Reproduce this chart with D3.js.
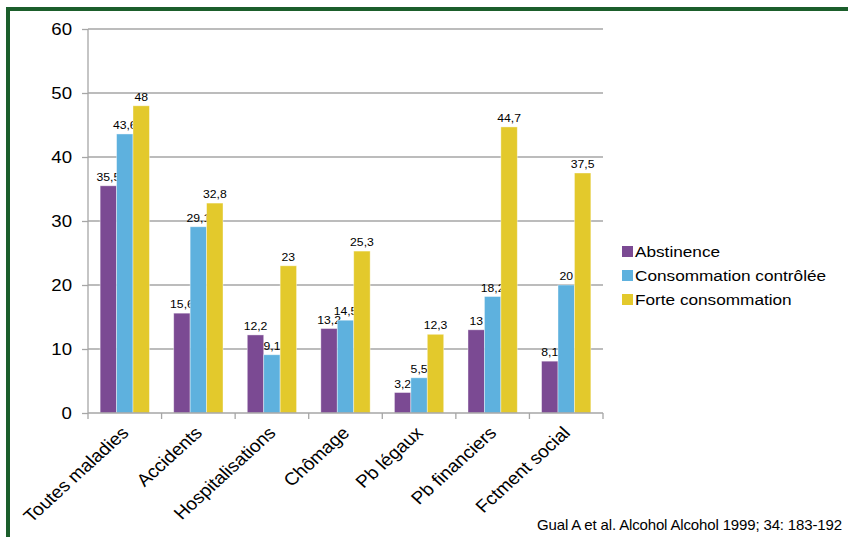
<!DOCTYPE html>
<html><head><meta charset="utf-8">
<script src="https://cdn.jsdelivr.net/npm/d3@7"></script>
<style>body{margin:0;background:#fff}svg{display:block;font-family:"Liberation Sans",Arial,sans-serif}</style>
</head><body><svg id="c" width="848" height="537"></svg>
<script>
const categories = ["Toutes maladies","Accidents","Hospitalisations","Chômage","Pb légaux","Pb financiers","Fctment social"];
const seriesNames = ["Abstinence","Consommation contrôlée","Forte consommation"];
const abstinence = [35.5,15.6,12.2,13.2,3.2,13,8.1];
const controlee = [43.6,29.1,9.1,14.5,5.5,18.2,20];
const forte = [48,32.8,23,25.3,12.3,44.7,37.5];
const yTicks = [0,10,20,30,40,50,60];
const colors = ["#7B4A93","#5EB1DE","#E3C92C"];
const source = "Gual A et al. Alcohol Alcohol 1999; 34: 183-192";

const series = [abstinence, controlee, forte];
const svg = d3.select("#c");
const SX = 1.13;
function stext(parent, x, y, str, size, anchor, sx, extra) {
  const g = parent.append("g").attr("transform", `translate(${x},${y}) scale(${sx},1)` + (extra||""));
  return g.append("text").attr("x",0).attr("y",0).attr("text-anchor",anchor)
    .attr("font-size",size).attr("fill","#000").text(str);
}
// frame
svg.append("path").attr("d","M8,537 V9 H848").attr("fill","none").attr("stroke","#1B5E2B").attr("stroke-width",4);

const x0 = d3.scaleBand().domain(categories).range([88,603]).paddingInner(0.33).paddingOuter(0.165);
const x1 = d3.scaleBand().domain(seriesNames).range([0,x0.bandwidth()]);
const y = d3.scaleLinear().domain([0,60]).range([413,29]);

// gridlines
svg.append("g").selectAll("line").data(yTicks.filter(d=>d>0)).join("line")
  .attr("x1",88).attr("x2",603).attr("y1",d=>y(d)).attr("y2",d=>y(d))
  .attr("stroke","#A6A6A6").attr("stroke-width",1.3);

// y axis
const ya = svg.append("g").attr("transform","translate(88,0)")
  .call(d3.axisLeft(y).tickValues(yTicks).tickSize(6).tickFormat(""));
ya.select(".domain").attr("stroke","#A6A6A6").attr("stroke-width",1.3).attr("d","M0,29V413");
ya.selectAll(".tick line").attr("stroke","#A6A6A6").attr("stroke-width",1.3);
yTicks.forEach(t => stext(svg, 72, y(t)+6, String(t), 16.5, "end", SX));

// bars
const fmt = v => String(v).replace(".",",");
categories.forEach((c,i)=>{
  const g = svg.append("g").attr("transform",`translate(${x0(c)},0)`);
  series.forEach((s,j)=>{
    g.append("rect").attr("x",x1(seriesNames[j])).attr("width",x1.bandwidth())
      .attr("y",y(s[i])).attr("height",y(0)-y(s[i])).attr("fill",colors[j])
      .attr("stroke","rgba(255,255,255,0.5)").attr("stroke-width",0.8);
    stext(g, x1(seriesNames[j])+x1.bandwidth()/2, y(s[i])-5, fmt(s[i]), 10.8, "middle", SX);
  });
});

// x axis
const xa = svg.append("g").attr("transform","translate(0,413)");
xa.append("line").attr("x1",88).attr("x2",603).attr("stroke","#A6A6A6").attr("stroke-width",1.5);
const bounds = d3.range(8).map(k=>88+k*(515/7));
xa.selectAll("line.t").data(bounds).join("line").attr("class","t")
  .attr("x1",d=>d).attr("x2",d=>d).attr("y1",0).attr("y2",6).attr("stroke","#A6A6A6").attr("stroke-width",1.3);
categories.forEach(c => stext(xa, x0(c)+x0.bandwidth()/2+5, 21, c, 17.5, "end", 1.1, " rotate(-45)"));

// legend
const lg = svg.append("g").attr("transform","translate(622,251)");
seriesNames.forEach((n,j)=>{
  lg.append("rect").attr("x",0).attr("y",j*24-5).attr("width",11).attr("height",11).attr("fill",colors[j]);
  stext(lg, 13, j*24+6, n, 15.5, "start", 1.11);
});

stext(svg, 537, 530, source, 15, "start", 1.0).attr("letter-spacing",-0.15);
</script></body></html>
